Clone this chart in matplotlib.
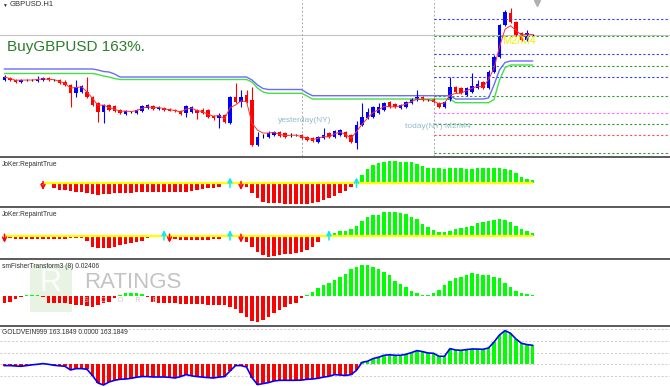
import numpy as np
import pandas as pd
import matplotlib
matplotlib.use('Agg')
import matplotlib.pyplot as plt
from matplotlib.lines import Line2D
from matplotlib.patches import Rectangle

plt.rcParams['font.family'] = ['Liberation Sans', 'DejaVu Sans']

W, H = 670, 387

# ---- price candles (price in chart points) ----
opens = [80, 82, 80, 78, 80, 80, 79, 80, 82, 80, 80, 78, 75, 67, 68, 68, 63, 57, 48, 55,
         54, 50, 46, 48, 47, 49, 52, 54, 51, 52, 51, 50, 49, 47, 48, 50, 50, 50, 44, 42,
         45, 37, 63, 58, 65, 60, 15, 24, 23, 25, 28, 27, 25, 25, 25, 23, 22, 18, 22, 27,
         23, 25, 28, 25, 17, 35, 42, 43, 47, 50, 58, 56, 52, 53, 57, 60, 63, 60, 61, 57,
         53, 60, 73, 72, 65, 68, 72, 78, 72, 88, 103, 135, 147, 138, 127, 120, 125]
closes = [83, 80, 78, 80, 80, 80, 81, 82, 80, 80, 77, 75, 67, 73, 74, 63, 55, 48, 55, 50,
          49, 47, 49, 48, 50, 54, 55, 51, 53, 50, 49, 49, 46, 54, 53, 47, 47, 43, 42, 45,
          38, 63, 58, 63, 58, 15, 23, 24, 27, 28, 24, 23, 25, 25, 22, 20, 19, 23, 25, 23,
          29, 30, 23, 18, 35, 43, 48, 53, 53, 57, 53, 53, 55, 58, 61, 63, 60, 60, 58, 53,
          58, 73, 68, 67, 72, 74, 76, 72, 88, 103, 135, 148, 138, 125, 120, 127, 125]
highs = [85, 83, 81, 81, 81, 81, 84, 83, 83, 81, 81, 80, 76, 80, 75, 83, 64, 58, 56, 56,
         55, 51, 50, 49, 51, 55, 56, 55, 54, 53, 52, 51, 50, 55, 54, 51, 52, 51, 45, 47,
         46, 64, 77, 70, 70, 73, 28, 26, 29, 29, 29, 28, 27, 26, 26, 24, 23, 24, 32, 28,
         30, 31, 29, 26, 39, 57, 52, 54, 57, 58, 59, 57, 56, 59, 62, 70, 64, 61, 62, 58,
         59, 83, 74, 73, 73, 87, 80, 79, 90, 105, 136, 150, 152, 139, 128, 130, 126]
lows = [79, 79, 77, 77, 79, 79, 78, 79, 79, 79, 76, 74, 53, 63, 67, 62, 54, 38, 37, 49,
        48, 46, 45, 47, 46, 48, 51, 50, 50, 49, 49, 48, 45, 43, 47, 41, 46, 42, 40, 32,
        37, 36, 57, 53, 57, 14, 14, 22, 22, 24, 23, 22, 23, 24, 21, 19, 18, 17, 21, 22,
        22, 24, 22, 17, 11, 34, 41, 42, 46, 49, 52, 52, 51, 52, 56, 59, 59, 59, 57, 52,
        52, 59, 67, 66, 64, 67, 71, 71, 71, 87, 102, 134, 137, 124, 119, 119, 124]

# envelope lines drawn over the candles
band_upper = [91] * 17 + [90, 88.5, 88, 86] + [83] * 24 + [80, 75, 71.5] + [70.5] * 7 + [67] \
    + [64.3] * 26 + [61] * 6 + [62, 75, 90, 97.5] + [99] * 5
band_lower = [86.5] * 17 + [85.5, 84, 83, 81.5] + [80.5] * 24 + [78, 72, 68] + [66.7] * 7 + [64] \
    + [61] * 26 + [57.3] * 7 + [60.5, 80, 92.3] + [95] * 5

# pivot levels on the right side
level_prices = [141, 124.3, 106, 94.3, 83, 64.3, 47, 36, 25, 7]
level_colors = ['#3b3bff', '#2f9a2f', '#3b3bff', '#2f9a2f', '#3b3bff', '#2f9a2f',
                '#ff66ff', '#2f9a2f', '#ff5050', '#2f9a2f']
bid_price = 125
day_breaks = [54, 78]

# ---- indicator windows ----
joker1 = [0.8] * 7 + [-0.5, -1, -5, -6.7, -6.7, -7.3, -8.3, -9, -10, -10.7, -11.7, -11, -10.7,
          -10, -10, -9.5, -9.3, -9, -9, -9, -9, -9, -9, -9, -9, -9, -8.3, -7.7, -6.7, -6, -5,
          -5, -4, -1, 0, 0, -1, -3.3, -10, -15, -18.3, -19.3, -19.3, -20, -20.7, -20.7, -21,
          -21, -20.7, -19.3, -18.3, -16.7, -15, -12.7, -10, -7.7, -3.3, 0,
          8.3, 14.3, 18.3, 20, 21.7, 22.3, 22.3, 21.7, 21.7, 21, 19, 17.3, 15.7, 15, 15, 14.3,
          15, 15, 15, 14.3, 14.3, 15, 15, 15, 15, 15, 14, 13.3, 10, 6, 4.3, 3]
joker1_up = [41, 64]
joker1_down = [7, 43]

joker2 = [0, -1.5, -2.5, -2.5, -3, -3, -3, -3, -3, -3, -2.5, -2.5, -2, -1.5, -1.5, -5, -10.7,
          -12.3, -12.3, -11.7, -10.7, -9, -8.3, -7.3, -6.3, -5, -2.3, -1, -0.5, 0, 0, -3, -4,
          -4, -4, -4, -4, -4, -3.3, -3, -1, 0, 0, 0, -5.7, -10.7, -15.7, -19, -20.7, -20, -19,
          -18.3, -18, -17.3, -15.7, -14, -10.7, -5.7, -1, 2,
          3.3, 5, 5, 7, 10.3, 15, 19.3, 21, 21.3, 24.3, 24.3, 24.3, 22.7, 21.7, 19.3, 17, 12,
          9.3, 6, 4.3, 3.7, 5, 6.7, 7.7, 8.7, 10.3, 13.3, 14.3, 15.3, 16.3, 16.7, 16.3, 14.3,
          10.3, 7, 5, 3.3]
joker2_up = [29, 41, 59]
joker2_down = [0, 30, 43]

fisher = [-7.7, -6, -3.7, -1.7, 0.5, 0.5, 0.5, -1.7, -7.7, -7,
          -7, -7.7, -8.3, -9.3, -9.3, -10.3, -11, -9.3, -7.7, -6,
          -2.7, 0.5, 2.3, 2.3, 3, 1.3, -1.7, -6, -7.7, -7.7,
          -7.7, -7.7, -8.3, -8.3, -8.7, -8.3, -8.7, -9.3, -9.3, -9.3,
          -9.3, -11, -13.7, -17.7, -21.7, -25, -26, -24.3, -21, -17.7,
          -14.3, -11, -8.3, -7, -2.7, 0.5, 4, 7.3, 10.7, 13,
          16, 18.3, 21.7, 26.3, 29, 30.7, 30.7, 29, 26.7, 23.3,
          20.7, 15, 11.3, 8.3, 4.7, 2.3, 0.7, 0.7, 3, 5.7,
          10.7, 15, 17.3, 19, 20.7, 22.3, 21.7, 21, 20.7, 19,
          17.3, 13, 9, 4.7, 2.3, 1.7, 0.5]

gold = [-1.3, -1.3, -1.7, -2, -1.3, -0.5, 0, 0.7, 0, -1,
        -1.5, -2, -5.7, -4.3, -4.3, -5, -11.3, -18.7, -20.7, -17.7,
        -16, -15, -14.7, -14, -13, -12.2, -12.3, -12.7, -12.7, -12.7,
        -13, -13.7, -12.3, -10.3, -11.5, -12.3, -12.8, -13.3, -13.7, -12.8,
        -12.3, -6.7, -1.3, -1.3, -2.7, -13.3, -20.3, -19.3, -18.3, -16.7,
        -16, -16, -16, -16, -15.8, -15, -14.7, -14, -12.8, -12,
        -10.3, -10.7, -11.2, -10.3, -6, 2, 3, 5.7, 7, 9,
        9.5, 9, 9, 10, 11.7, 13.7, 12.7, 11.3, 11, 8,
        8, 15.7, 14.3, 14, 14.7, 15.3, 15.2, 15, 16.3, 22.3,
        29.3, 33.7, 31, 25.3, 21, 19.7, 19]
gold_bull_start = 65
gold_levels = [-11.7, 0, 11.7, 23.3, 35]

N = len(closes)
idx = np.arange(N)
ma = pd.Series(closes, dtype=float).ewm(alpha=0.5, adjust=False).mean()

# bar i sits at pixel 4.5 + 5.5*i
STEP, X0 = 5.5, 4.5
XLIM = (-X0 / STEP, (W - X0) / STEP)

fig = plt.figure(figsize=(W / 100, H / 100), dpi=100)
fig.patch.set_facecolor('white')


def panel(top, bottom, ylo, yhi):
    ax = fig.add_axes([0, 1 - bottom / H, 1, (bottom - top) / H])
    ax.set_xlim(XLIM)
    ax.set_ylim(ylo, yhi)
    ax.axis('off')
    return ax


def ftext(x, y, s, **kw):
    fig.text(x / W, 1 - y / H, s, **kw)


RED, BLUE, GREEN = '#ff0000', '#0000ff', '#00ff00'

# ---------------- main chart ----------------
ax = panel(0, 156, 4, 160)
ax.axhline(bid_price, color='#c4c4c4', lw=0.8)
for d in day_breaks:
    ax.axvline(d, color='#a8a8a8', lw=0.7, ls=(0, (2, 2)))
for p, c in zip(level_prices, level_colors):
    ax.hlines(p, day_breaks[1], XLIM[1], color=c, lw=0.8, ls=(0, (2, 2)))
ax.plot(idx, band_upper, color='#6b6bff', lw=1.0)
ax.plot(idx, band_lower, color='#44e044', lw=1.0)

o, c, h, l = map(np.array, (opens, closes, highs, lows))
col = np.where(c > o, BLUE, np.where(c < o, RED, 'black'))
ax.vlines(idx, l, h, colors=col, lw=0.8)
body = np.abs(c - o)
ax.bar(idx, np.where(body == 0, 0.4, body), bottom=np.minimum(o, c), width=0.6,
       color=col, linewidth=0)
ax.plot(idx, ma, color='#ff3030', lw=0.7)

ftext(2, 5, '\u25bc', fontsize=3.5, color='#303030', va='center')
ftext(10, 5, 'GBPUSD.H1', fontsize=5.5, color='#303030', va='center')
ftext(7, 47, 'BuyGBPUSD 163%.', fontsize=11, color='#2a7d2a', va='center')
ftext(278, 121, 'yesterday(NY)', fontsize=6, color='#8fbccc', va='center')
ftext(405, 127, 'today(NY) M2/M4', fontsize=6, color='#8fbccc', va='center')
ftext(502, 41, 'M2/M4', fontsize=8, color='#f0f000', va='center')
# chart-shift marker at the top edge
fig.add_artist(Line2D([537 / W], [1 - 2.5 / H], marker='v', markersize=4,
                      color='#b0b0b0', linestyle='none'))


def hist(ax, vals, width=0.6, colors=None):
    v = np.array(vals, dtype=float)
    if colors is None:
        colors = np.where(v > 0, GREEN, RED)
    ax.bar(idx[:len(v)], v, width=width, color=colors, linewidth=0)


def arrows(ax, ups, downs, size):
    for i in ups:
        ax.annotate('', xy=(i, size * 0.65), xytext=(i, -size * 0.45),
                    arrowprops=dict(arrowstyle='->', color='#00e8ff', lw=1.1,
                                    mutation_scale=7, shrinkA=0, shrinkB=0))
    for i in downs:
        ax.annotate('', xy=(i, -size * 0.75), xytext=(i, size * 0.2),
                    arrowprops=dict(arrowstyle='->', color=RED, lw=1.1,
                                    mutation_scale=7, shrinkA=0, shrinkB=0))


# ---------------- JoKer 1 ----------------
ax1 = panel(158, 206, -(206 - 183.3), 183.3 - 158)
hist(ax1, joker1)
ax1.hlines(0, joker1_down[0], N - 1, color='#ffff00', lw=1.6, zorder=3)
arrows(ax1, joker1_up, joker1_down, 9)
ftext(2, 165, 'JoKer:RepaintTrue', fontsize=4.8, color='#303030', va='center')

# ---------------- JoKer 2 ----------------
ax2 = panel(208, 257, -(257 - 236), 236 - 208)
hist(ax2, joker2)
ax2.hlines(0, 0, N - 1, color='#ffff00', lw=1.6, zorder=3)
arrows(ax2, joker2_up, joker2_down, 9)
ftext(2, 215, 'JoKer:RepaintTrue', fontsize=4.8, color='#303030', va='center')

# ---------------- Fisher ----------------
ax3 = panel(259.5, 324.5, -(324.5 - 295.7), 295.7 - 259.5)
# watermark
ax3.add_patch(Rectangle((0.045, 0.2), 0.062, 0.72, transform=ax3.transAxes,
                        facecolor='#e3f0dc', edgecolor='none', alpha=0.8, zorder=0))
ftext(51, 283, 'R', fontsize=22, color='white', ha='center', va='center', alpha=0.9)
ftext(84, 283, 'RATINGS', fontsize=16, color='#b4b4b4', va='center', alpha=0.8)
ftext(84, 301, 'S      C      O      R      E', fontsize=5, color='#c8c8c8', va='center')
hist(ax3, fisher)
ftext(2, 267, 'smFisherTransform3 (8) 0.02406', fontsize=4.8, color='#303030', va='center')

# ---------------- GOLDVEIN ----------------
ax4 = panel(326.5, 387, -(387 - 364.3), 364.3 - 326.5)
for g in gold_levels:
    ax4.axhline(g, color='#cccccc', lw=0.7, ls=(0, (2, 2)), zorder=0)
gcol = [RED if i < gold_bull_start else GREEN for i in idx]
hist(ax4, gold, width=0.65, colors=gcol)
ax4.plot(idx, gold, color=BLUE, lw=1.2)
ftext(2, 332, 'GOLDVEIN999 163.1849 0.0000 163.1849', fontsize=4.8, color='#303030',
      va='center')

# window separators
for y in (157, 207, 258.5, 325.5):
    fig.add_artist(Line2D([0, 1], [1 - y / H, 1 - y / H], color='#5a5a5a', lw=1.4))

fig.savefig('out.png', dpi=100, facecolor='white')
